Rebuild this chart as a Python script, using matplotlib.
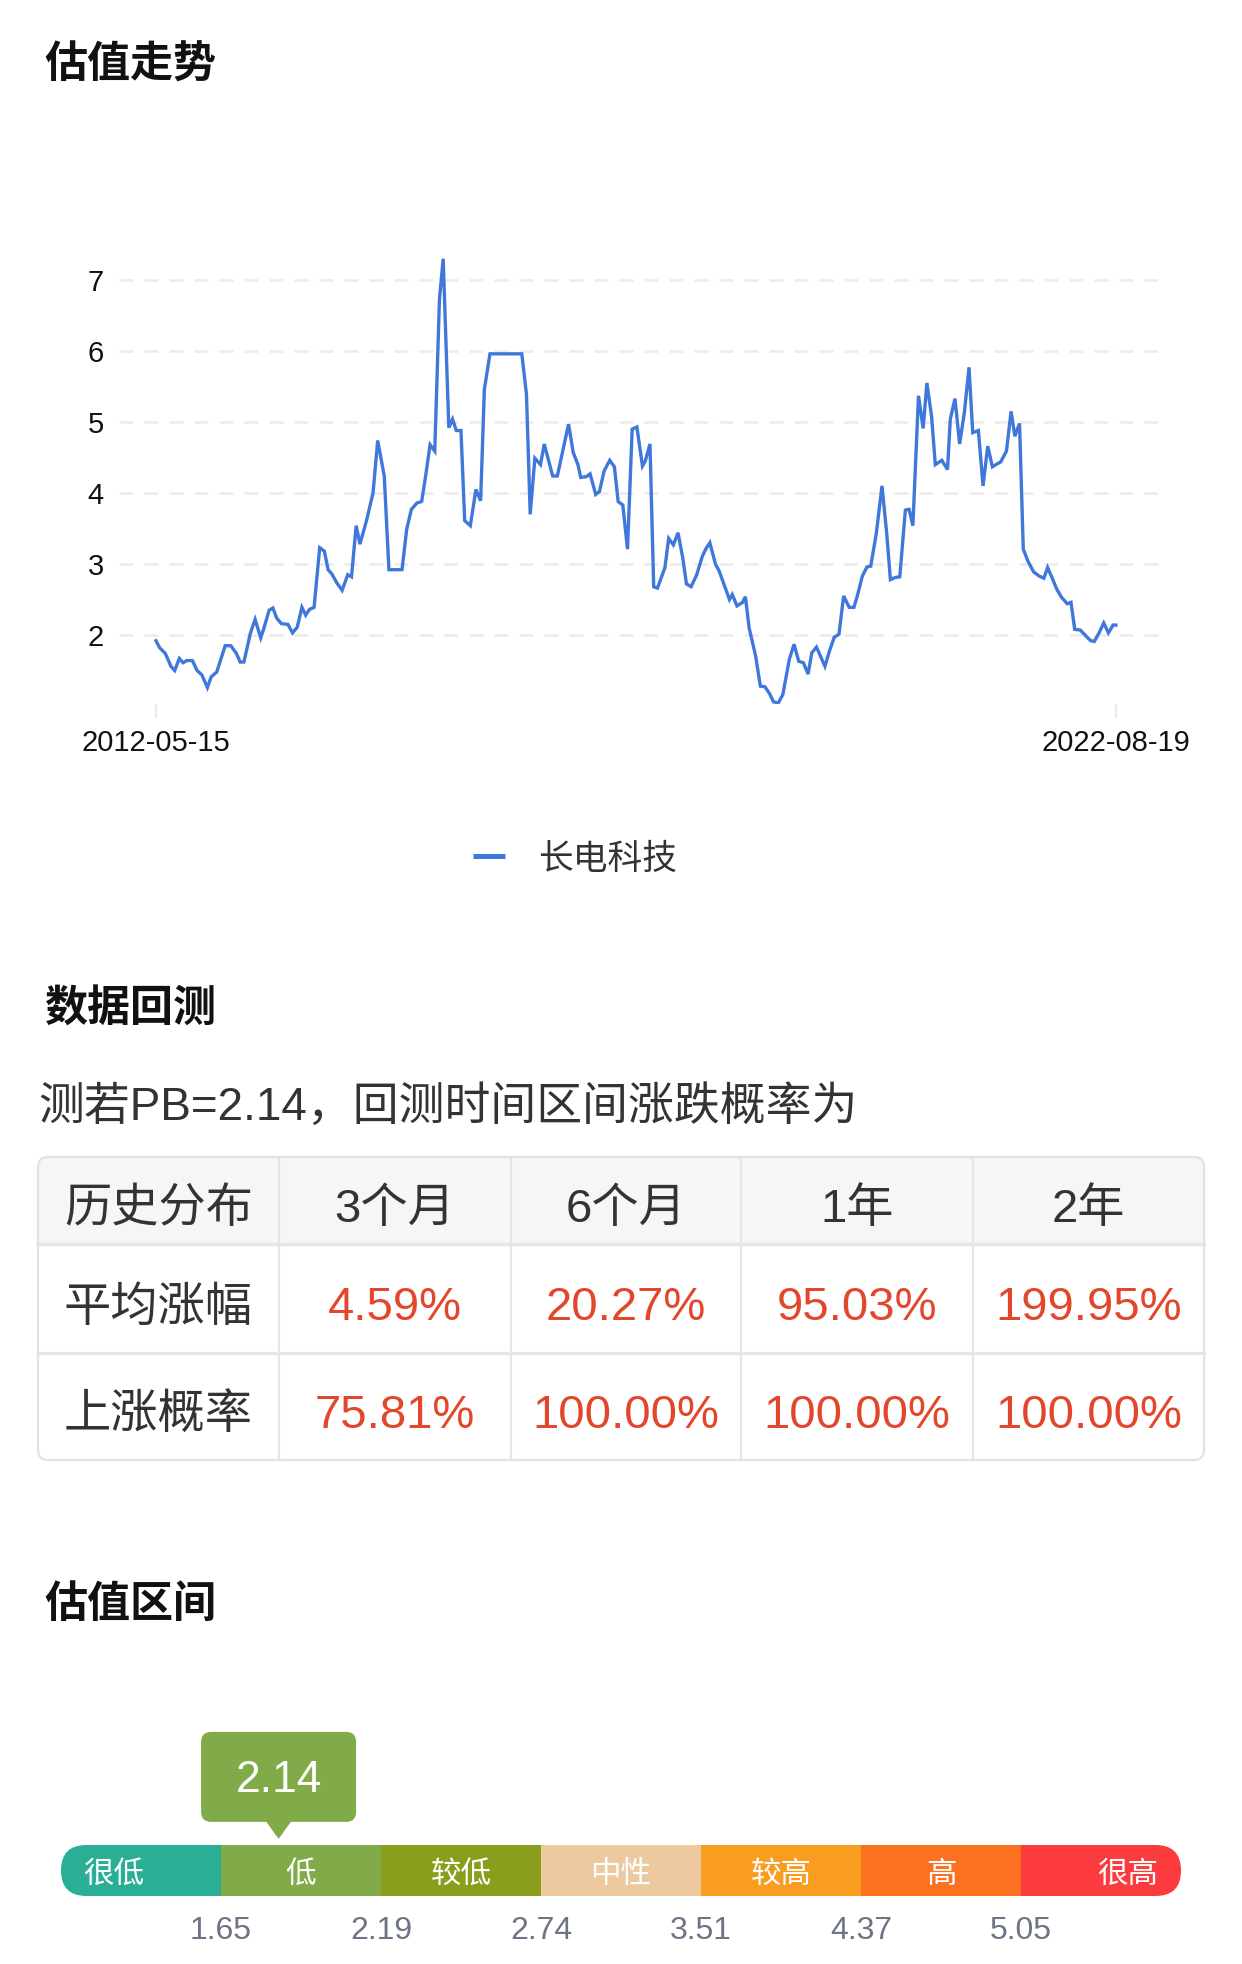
import matplotlib
matplotlib.use('Agg')
import matplotlib.pyplot as plt
from matplotlib.patches import FancyBboxPatch, Polygon, Rectangle
from matplotlib.lines import Line2D

plt.rcParams['font.family'] = ['Liberation Sans', 'Noto Sans CJK SC']

W, H = 1242, 1964

# valuation history (decimal year, PB)
years = [
    2012.37, 2012.41, 2012.47, 2012.53, 2012.57, 2012.62, 2012.66, 2012.70, 2012.76, 2012.81,
    2012.86, 2012.92, 2012.96, 2013.02, 2013.11, 2013.17, 2013.23, 2013.27, 2013.31, 2013.38,
    2013.43, 2013.49, 2013.52, 2013.58, 2013.62, 2013.66, 2013.71, 2013.78, 2013.83, 2013.88,
    2013.93, 2013.97, 2014.01, 2014.06, 2014.12, 2014.17, 2014.21, 2014.25, 2014.30, 2014.36,
    2014.42, 2014.46, 2014.51, 2014.55, 2014.62, 2014.69, 2014.74, 2014.81, 2014.86, 2014.92,
    2015.00, 2015.05, 2015.10, 2015.16, 2015.21, 2015.25, 2015.30, 2015.35, 2015.40, 2015.44,
    2015.50, 2015.54, 2015.58, 2015.63, 2015.67, 2015.73, 2015.79, 2015.84, 2015.88, 2015.94,
    2016.28, 2016.33, 2016.37, 2016.42, 2016.48, 2016.52, 2016.61, 2016.66, 2016.78, 2016.83,
    2016.88, 2016.91, 2016.97, 2017.01, 2017.07, 2017.11, 2017.16, 2017.22, 2017.27, 2017.31,
    2017.36, 2017.41, 2017.46, 2017.51, 2017.57, 2017.60, 2017.65, 2017.69, 2017.73, 2017.81,
    2017.85, 2017.90, 2017.95, 2018.00, 2018.04, 2018.09, 2018.15, 2018.21, 2018.25, 2018.29,
    2018.35, 2018.39, 2018.45, 2018.50, 2018.53, 2018.58, 2018.64, 2018.67, 2018.71, 2018.78,
    2018.83, 2018.88, 2018.93, 2018.97, 2019.02, 2019.07, 2019.14, 2019.19, 2019.24, 2019.29,
    2019.34, 2019.38, 2019.43, 2019.52, 2019.57, 2019.62, 2019.67, 2019.72, 2019.78, 2019.83,
    2019.87, 2019.92, 2019.97, 2020.01, 2020.07, 2020.13, 2020.18, 2020.22, 2020.27, 2020.32,
    2020.38, 2020.42, 2020.46, 2020.52, 2020.57, 2020.61, 2020.66, 2020.70, 2020.77, 2020.83,
    2020.86, 2020.91, 2020.96, 2021.01, 2021.06, 2021.10, 2021.16, 2021.21, 2021.26, 2021.31,
    2021.40, 2021.46, 2021.51, 2021.55, 2021.60, 2021.64, 2021.69, 2021.75, 2021.81, 2021.86,
    2021.90, 2021.94, 2022.00, 2022.05, 2022.11, 2022.15, 2022.19, 2022.25, 2022.30, 2022.36,
    2022.40, 2022.45, 2022.50, 2022.55, 2022.60, 2022.63,
]
pb = [
    1.92, 1.82, 1.74, 1.56, 1.50, 1.67, 1.61, 1.64, 1.64, 1.50,
    1.44, 1.26, 1.41, 1.48, 1.85, 1.85, 1.74, 1.62, 1.62, 2.03,
    2.22, 1.96, 2.08, 2.35, 2.38, 2.24, 2.16, 2.15, 2.03, 2.11,
    2.39, 2.28, 2.36, 2.39, 3.23, 3.18, 2.92, 2.86, 2.74, 2.63,
    2.85, 2.82, 3.54, 3.28, 3.61, 4.00, 4.74, 4.24, 2.92, 2.92,
    2.92, 3.49, 3.77, 3.86, 3.88, 4.22, 4.68, 4.59, 6.73, 7.30,
    4.92, 5.04, 4.88, 4.88, 3.61, 3.54, 4.05, 3.89, 5.46, 5.96,
    5.96, 5.39, 3.70, 4.49, 4.40, 4.69, 4.24, 4.24, 4.97, 4.57,
    4.40, 4.22, 4.23, 4.27, 3.98, 4.02, 4.31, 4.46, 4.37, 3.88,
    3.83, 3.21, 4.90, 4.93, 4.38, 4.45, 4.69, 2.68, 2.66, 2.95,
    3.36, 3.27, 3.44, 3.09, 2.72, 2.68, 2.85, 3.11, 3.22, 3.30,
    3.00, 2.90, 2.68, 2.50, 2.57, 2.41, 2.46, 2.54, 2.10, 1.70,
    1.28, 1.27, 1.17, 1.06, 1.04, 1.16, 1.66, 1.87, 1.63, 1.61,
    1.45, 1.75, 1.83, 1.56, 1.78, 1.97, 2.01, 2.55, 2.39, 2.39,
    2.57, 2.83, 2.96, 2.97, 3.44, 4.10, 3.44, 2.78, 2.81, 2.82,
    3.76, 3.77, 3.54, 5.37, 4.91, 5.55, 5.08, 4.40, 4.46, 4.33,
    5.04, 5.33, 4.69, 5.13, 5.77, 4.85, 4.88, 4.10, 4.66, 4.37,
    4.44, 4.59, 5.15, 4.80, 4.98, 3.21, 3.04, 2.89, 2.83, 2.80,
    2.95, 2.83, 2.64, 2.53, 2.44, 2.46, 2.08, 2.07, 2.00, 1.92,
    1.91, 2.03, 2.17, 2.03, 2.14, 2.14,
]
date_ticks = [2012.37, 2022.63]
date_labels = ['2012-05-15', '2022-08-19']
y_ticks = [2, 3, 4, 5, 6, 7]
series_name = '长电科技'

# backtest table
current_pb = 2.14
periods = ['3个月', '6个月', '1年', '2年']
row_labels = ['平均涨幅', '上涨概率']
avg_gain = ['4.59%', '20.27%', '95.03%', '199.95%']
up_prob = ['75.81%', '100.00%', '100.00%', '100.00%']

# valuation zones
zones = ['很低', '低', '较低', '中性', '较高', '高', '很高']
zone_colors = ['#2aae96', '#80ab48', '#8a9e1c', '#edc9a0', '#f99d20', '#fb7120', '#fb3b3e']
zone_bounds = ['1.65', '2.19', '2.74', '3.51', '4.37', '5.05']
pointer_pos = 1.36

DARK = '#333333'
RED = '#e2472b'
LINE = '#3f78da'


def rect(x0, y0, x1, y1):
    return [x0 / W, 1 - y1 / H, (x1 - x0) / W, (y1 - y0) / H]


fig = plt.figure(figsize=(W / 100, H / 100), dpi=100)

# overlay in pixel units for titles, table, callout
ov = fig.add_axes([0, 0, 1, 1])
ov.set_xlim(0, W)
ov.set_ylim(H, 0)
ov.axis('off')

for title, ty in [('估值走势', 66), ('数据回测', 1009), ('估值区间', 1605)]:
    ov.text(44, ty, title, fontsize=31, fontweight='bold', color='#111111', va='center', ha='left')

# ---- line chart ----
ax = fig.add_axes(rect(119, 251.6, 1158, 703.9))
ax.plot(years, pb, color=LINE, lw=2.4, solid_joinstyle='miter')
ax.set_xlim(2011.975, 2023.08)
ax.set_ylim(1.03, 7.4)
ax.set_yticks(y_ticks)
ax.set_yticklabels([str(t) for t in y_ticks])
ax.set_xticks(date_ticks)
ax.set_xticklabels(date_labels)
ax.grid(axis='y', color='#ececec', lw=2, ls=(0, (5, 4)))
ax.set_axisbelow(True)
ax.tick_params(axis='y', length=0, pad=11, labelsize=21, labelcolor='#111111')
ax.tick_params(axis='x', length=10, width=1.2, color='#e8e8e8', pad=8, labelsize=21, labelcolor='#111111')
for s in ax.spines.values():
    s.set_visible(False)
ax.patch.set_alpha(0)

handle = Line2D([], [], color=LINE, lw=3.6, solid_capstyle='butt')
ax.legend([handle], [series_name], loc='center', bbox_to_anchor=(575 / W, 1 - 859 / H),
          bbox_transform=fig.transFigure, frameon=False, fontsize=25,
          handlelength=0.9, handletextpad=0.95, labelcolor=DARK)

# ---- backtest ----
ov.text(38, 1108, f'测若PB={current_pb}，回测时间区间涨跌概率为', fontsize=33, color=DARK,
        va='center', ha='left')

col_edges = [38, 279, 511, 741, 973, 1204]
row_edges = [1157, 1244, 1353, 1460]
tw = col_edges[-1] - col_edges[0]
ov.add_patch(FancyBboxPatch((38, 1157), tw, 100, boxstyle='round,pad=0,rounding_size=10',
                            fc='#f6f6f6', ec='none', zorder=1))
ov.add_patch(Rectangle((38, 1244), tw, 216 - 12, fc='white', ec='none', zorder=1))
ov.add_patch(FancyBboxPatch((38, 1157), tw, 303, boxstyle='round,pad=0,rounding_size=10',
                            fc='none', ec='#e2e2e2', lw=1.6, zorder=3))
for yy in row_edges[1:-1]:
    ov.plot([38, 1204], [yy, yy], color='#e6e6e6', lw=2.4, zorder=2)
for xx in col_edges[1:-1]:
    ov.plot([xx, xx], [1157, 1460], color='#e6e6e6', lw=1.6, zorder=2)

rows = [['历史分布'] + periods, [row_labels[0]] + avg_gain, [row_labels[1]] + up_prob]
for r, cells in enumerate(rows):
    cy = (row_edges[r] + row_edges[r + 1]) / 2 + 10
    for c, txt in enumerate(cells):
        cx = (col_edges[c] + col_edges[c + 1]) / 2
        color = RED if (r > 0 and c > 0) else DARK
        ov.text(cx, cy, txt, fontsize=34, color=color, ha='center', va='center', zorder=4)

# ---- valuation zone bar ----
bx = fig.add_axes(rect(61, 1845, 1181, 1896))
bx.set_xlim(0, len(zones))
bx.set_ylim(0, 1)
bx.axis('off')
bars = bx.barh(0.5, [1] * len(zones), left=list(range(len(zones))), height=1,
               color=zone_colors, edgecolor='none')
clip = FancyBboxPatch((61, 1845), 1120, 51, boxstyle='round,pad=0,rounding_size=25.5',
                      transform=ov.transData)
for b in bars:
    b.set_clip_path(clip)

for i, z in enumerate(zones):
    if i == 0:
        bx.text(0.14, 0.42, z, ha='left', va='center', color='white', fontsize=22)
    elif i == len(zones) - 1:
        bx.text(len(zones) - 0.145, 0.42, z, ha='right', va='center', color='white', fontsize=22)
    else:
        bx.text(i + 0.5, 0.42, z, ha='center', va='center', color='white', fontsize=22)

for i, lab in enumerate(zone_bounds):
    bx.text(i + 1, -0.68, lab, ha='center', va='center', color='#6e7385', fontsize=23)

# callout with current value
px_, py_ = ov.transData.inverted().transform(bx.transData.transform((pointer_pos, 1.12)))
box_w, box_h, tri_h, tri_w = 155, 90, 17, 26
green = zone_colors[1]
ov.add_patch(FancyBboxPatch((px_ - box_w / 2, py_ - tri_h - box_h), box_w, box_h,
                            boxstyle='round,pad=0,rounding_size=10', fc=green, ec='none'))
ov.add_patch(Polygon([(px_ - tri_w / 2, py_ - tri_h - 1), (px_ + tri_w / 2, py_ - tri_h - 1),
                      (px_, py_)], closed=True, fc=green, ec='none'))
ov.text(px_, py_ - tri_h - box_h / 2 + 4, f'{current_pb}', color='white', fontsize=32,
        ha='center', va='center')

fig.savefig('out.png', dpi=100)
